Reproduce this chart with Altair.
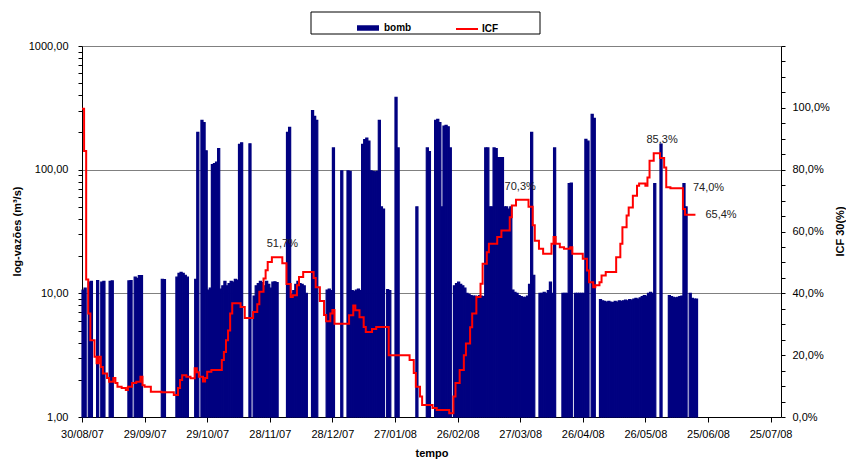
import altair as alt
import pandas as pd

FONT = "Liberation Sans"

# ---- data -------------------------------------------------------------
start_date = "2007-08-30"
end_date = "2008-07-30"

# daily pumped flow (m3/s); 0 = no pumping that day
bomb = [
    10.6, 11.0, 0, 12.3, 12.5, 0, 0, 12.7, 0, 12.3,
    12.5, 0, 0, 12.5, 12.6, 0, 0, 0, 0, 0,
    0, 0, 12.6, 12.7, 0, 13.5, 13.2, 13.9, 13.9, 0,
    0, 0, 0, 0, 0, 0, 0, 0, 13.0, 12.9,
    0, 0, 0, 0, 0, 13.5, 14.5, 14.8, 14.5, 14.0,
    13.5, 0, 0, 0, 13.0, 200, 0, 250, 240, 142,
    10.6, 11.0, 110, 112, 115, 148, 10.8, 11.5, 12.5, 11.5,
    12.0, 12.5, 12.3, 13.0, 12.8, 160, 165, 0, 0, 0,
    162, 0, 9.5, 11.5, 12.0, 12.5, 12.2, 11.5, 12.5, 11.8,
    11.0, 12.3, 12.4, 12.2, 0, 0, 0, 0, 200, 220,
    9.8, 10.5, 11.8, 12.5, 12.0, 11.8, 11.5, 10.0, 0, 0,
    300, 270, 250, 0, 0, 0, 0, 10.6, 10.8, 10.5,
    150, 0, 0, 0, 98, 0, 0, 98, 97, 10.5,
    10.4, 10.6, 10.8, 10.5, 160, 175, 180, 170, 98, 97,
    96, 97, 250, 50, 48, 0, 10.7, 10.5, 0, 0,
    385, 150, 0, 0, 0, 0, 0, 0, 0, 0,
    50, 0, 0, 0, 0, 150, 140, 0, 0, 250,
    255, 240, 50, 225, 228, 222, 150, 0, 11.5, 12.0,
    12.3, 11.8, 11.5, 11.0, 10.0, 9.8, 9.6, 9.5, 9.5, 9.4,
    9.6, 9.5, 9.4, 150, 150, 50, 50, 150, 148, 125,
    125, 125, 50, 50, 48, 50, 10.6, 10.2, 10.0, 9.6,
    9.4, 9.3, 9.3, 9.5, 11.8, 200, 14.0, 0, 0, 10.0,
    10.0, 10.2, 10.0, 10.5, 12.3, 10.0, 150, 0, 0, 0,
    10.0, 10.0, 10.0, 77, 78, 0, 10.0, 10.0, 10.0, 10.0,
    10.0, 176, 170, 0, 280, 260, 0, 0, 8.9, 8.7,
    8.6, 8.5, 8.6, 8.5, 8.4, 8.6, 8.5, 8.7, 8.6, 8.7,
    8.8, 8.7, 8.9, 8.8, 9.0, 9.1, 9.0, 9.2, 9.4, 9.6,
    9.5, 10.0, 10.2, 10.0, 77, 0, 0, 161, 0, 0,
    0, 9.6, 9.4, 9.3, 9.2, 9.3, 9.4, 9.5, 77, 50,
    0, 10.0, 9.1, 9.0, 9.0,
]

# ICF 30 (%) : day offset where a new value starts, and that value
icf_day = [
    0, 1, 2, 3, 4, 6, 7, 8, 9, 10, 12, 13, 15, 16, 17, 19, 21, 22, 24, 26,
    28, 29, 30, 33, 38, 44, 46, 47, 48, 50, 52, 54, 55, 56, 58, 59, 60, 62, 67, 68,
    69, 70, 71, 72, 76, 78, 82, 84, 85, 87, 88, 89, 91, 96, 98, 100, 101, 103, 104, 106,
    111, 112, 114, 116, 117, 119, 120, 121, 128, 130, 131, 133, 135, 136, 139, 141, 147, 157, 159, 160,
    162, 163, 168, 170, 176, 178, 179, 181, 183, 184, 186, 187, 189, 191, 192, 194, 195, 199, 201, 205,
    206, 208, 214, 216, 217, 219, 221, 225, 226, 227, 229, 231, 234, 235, 240, 242, 243, 245, 246, 248,
    249, 251, 256, 258, 259, 261, 262, 264, 266, 267, 270, 271, 272, 274, 277, 279, 280, 282, 288, 289,
    294,
]
icf_pct = [
    99.7, 86.0, 44.5, 33.5, 24.8, 19.5, 17.4, 19.5, 16.2, 14.1, 12.6, 11.4, 12.6, 11.0, 9.8, 9.4, 8.7, 9.8, 11.0, 11.4,
    13.0, 10.3, 9.8, 8.2, 8.0, 7.1, 9.4, 12.0, 13.5, 13.0, 12.5, 15.8, 14.5, 13.0, 11.5, 12.6, 14.6, 15.2, 18.4, 21.0,
    24.8, 28.0, 33.5, 36.8, 35.6, 32.0, 34.0, 36.5, 40.5, 44.8, 47.5, 50.1, 51.7, 49.7, 43.0, 38.8, 39.4, 42.6, 45.3, 46.9,
    45.0, 42.0, 37.5, 33.0, 31.0, 33.5, 34.6, 30.2, 32.9, 36.1, 34.5, 32.3, 29.1, 27.5, 28.5, 29.1, 20.0, 18.4, 14.2, 9.8,
    6.6, 3.9, 2.9, 2.3, 1.2, 6.6, 11.0, 15.2, 20.0, 23.8, 29.0, 33.5, 38.8, 43.1, 49.6, 53.3, 56.0, 58.2, 60.3, 64.6,
    68.4, 70.3, 68.0, 62.0, 57.0, 54.4, 52.8, 56.0, 58.2, 56.0, 54.9, 54.4, 54.9, 52.8, 51.2, 47.4, 43.6, 42.0, 42.6, 43.6,
    45.8, 46.9, 51.7, 56.0, 61.4, 65.2, 67.8, 71.6, 74.8, 75.5, 74.8, 77.5, 82.9, 85.3, 83.8, 80.7, 74.3, 74.0, 67.3, 65.4,
    65.4,
]

# annotated ICF values
peak_day = [96, 210, 278]
peak_pct = [51.7, 70.3, 85.3]
end_day = [288, 294]
end_pct = [74.0, 65.4]

tick_dates = [
    "2007-08-30", "2007-09-29", "2007-10-29", "2007-11-28", "2007-12-28", "2008-01-27",
    "2008-02-26", "2008-03-27", "2008-04-26", "2008-05-26", "2008-06-25", "2008-07-25",
]
flow_major = [1, 10, 100, 1000]
flow_ticks = sorted(flow_major + [m * 10 ** k for k in range(3) for m in range(2, 10)])
pct_ticks = list(range(0, 125, 5))

# ---- tables -----------------------------------------------------------
t0 = pd.Timestamp(start_date)


def day_str(d):
    return (t0 + pd.Timedelta(days=int(d))).strftime("%Y-%m-%d")


def ms(s):
    return int(pd.Timestamp(s, tz="UTC").value // 10**6)


def pct_text(v):
    return f"{v:.1f}".replace(".", ",") + "%"


bars_df = pd.DataFrame({
    "date": [day_str(i) for i in range(len(bomb))],
    "date_end": [day_str(i + 1) for i in range(len(bomb))],
    "bomb": bomb,
    "serie": "bomb",
})
bars_df = bars_df[bars_df["bomb"] > 0]

icf_df = pd.DataFrame({
    "date": [day_str(d) for d in icf_day],
    "icf": icf_pct,
    "serie": "ICF",
})
peak_df = pd.DataFrame({
    "date": [day_str(d) for d in peak_day],
    "icf": peak_pct,
    "txt": [pct_text(v) for v in peak_pct],
})
end_df = pd.DataFrame({
    "date": [day_str(d) for d in end_day],
    "icf": end_pct,
    "txt": [pct_text(v) for v in end_pct],
})

# ---- scales & axes ----------------------------------------------------
x_enc = alt.X(
    "date:T",
    scale=alt.Scale(type="utc", domain=[ms(start_date), ms(end_date)], nice=False),
    axis=alt.Axis(
        values=[ms(d) for d in tick_dates],
        labelExpr="utcFormat(datum.value, '%d/%m/%y')",
        labelFont=FONT, labelFontSize=11, labelColor="#000",
        labelPadding=6, labelOverlap=False, labelFlush=False,
        tickColor="#000", tickSize=5, domainColor="#000", grid=False,
        title="tempo", titleFont=FONT, titleFontSize=11, titleFontWeight="bold",
        titleColor="#000", titleY=36, titleBaseline="middle",
    ),
)

flow_axis = alt.Axis(
    values=flow_ticks,
    labelExpr="indexof([1,10,100,1000], datum.value) >= 0 ? replace(format(datum.value, '.2f'), '.', ',') : ''",
    labelFont=FONT, labelFontSize=11, labelColor="#000", labelPadding=10,
    tickColor="#000", tickSize=4, domainColor="#000",
    grid=True, gridColor="#808080", gridWidth=1,
    gridOpacity={"condition": {"test": "indexof([10,100,1000], datum.value) >= 0", "value": 1}, "value": 0},
    title="log-vazões (m³/s)", titleFont=FONT, titleFontSize=11, titleFontWeight="bold",
    titleColor="#000", titleX=-65, titleY=185, titleAngle=270,
    titleAlign="center", titleBaseline="middle",
)

pct_axis = alt.Axis(
    orient="right",
    values=pct_ticks,
    labelExpr="(datum.value % 20 == 0 && datum.value <= 100) ? replace(format(datum.value, '.1f'), '.', ',') + '%' : ''",
    labelFont=FONT, labelFontSize=11, labelColor="#000", labelPadding=7,
    tickColor="#000", tickSize=4, domainColor="#000", grid=False,
    title="ICF 30(%)", titleFont=FONT, titleFontSize=11, titleFontWeight="bold",
    titleColor="#000", titleX=59, titleY=185, titleAngle=270,
    titleAlign="center", titleBaseline="middle",
)
y_icf = alt.Y("icf:Q", scale=alt.Scale(domain=[0, 120], nice=False, zero=False), axis=pct_axis)

# ---- layers -----------------------------------------------------------
# an outline in the fill colour closes the anti-aliasing seams between daily bars
bars = alt.Chart(bars_df).mark_rect(stroke="#000080", strokeWidth=1.2).encode(
    x=x_enc,
    x2="date_end:T",
    y=alt.Y("bomb:Q", scale=alt.Scale(type="log", domain=[1, 1000], nice=False), axis=flow_axis),
    y2=alt.datum(1),
    color=alt.Color(
        "serie:N",
        scale=alt.Scale(domain=["bomb"], range=["#000080"]),
        legend=alt.Legend(
            orient="none", legendX=275, legendY=-29, title=None, padding=0,
            symbolType="M-1,-0.25H1V0.25H-1Z", symbolSize=484, symbolStrokeWidth=0,
            labelFont=FONT, labelFontSize=10, labelFontWeight="bold", labelColor="#000",
            labelOffset=5,
        ),
    ),
)

line = alt.Chart(icf_df).mark_line(interpolate="step-after", strokeWidth=2).encode(
    x=x_enc,
    y=y_icf,
    stroke=alt.Stroke(
        "serie:N",
        scale=alt.Scale(domain=["ICF"], range=["#FF0000"]),
        legend=alt.Legend(
            orient="none", legendX=373, legendY=-29, title=None, padding=0,
            symbolType="stroke", symbolSize=484, symbolStrokeWidth=2,
            labelFont=FONT, labelFontSize=10, labelFontWeight="bold", labelColor="#000",
            labelOffset=3,
        ),
    ),
)

peaks = alt.Chart(peak_df).mark_text(
    dy=-13, baseline="middle", align="center", font=FONT, fontSize=11, color="#222"
).encode(x=x_enc, y=y_icf, text="txt:N")

ends = alt.Chart(end_df).mark_text(
    dx=10, baseline="middle", align="left", font=FONT, fontSize=11, color="#222"
).encode(x=x_enc, y=y_icf, text="txt:N")

legend_box = alt.Chart(alt.Data(values=[{}])).mark_rect(
    fillOpacity=0, stroke="#000", strokeWidth=1
).encode(
    x=alt.value(229), x2=alt.value(458), y=alt.value(-34), y2=alt.value(-12)
)

chart = (
    alt.layer(bars, alt.layer(line, peaks, ends), legend_box)
    .resolve_scale(y="independent")
    .properties(
        width=699, height=371,
        autosize=alt.AutoSizeParams(type="none"),
        padding={"left": 82, "top": 46, "right": 65, "bottom": 42},
        background="white",
    )
    .configure_view(stroke=None)
)

chart.save("out.html", embed_options={"renderer": "svg", "actions": False})
